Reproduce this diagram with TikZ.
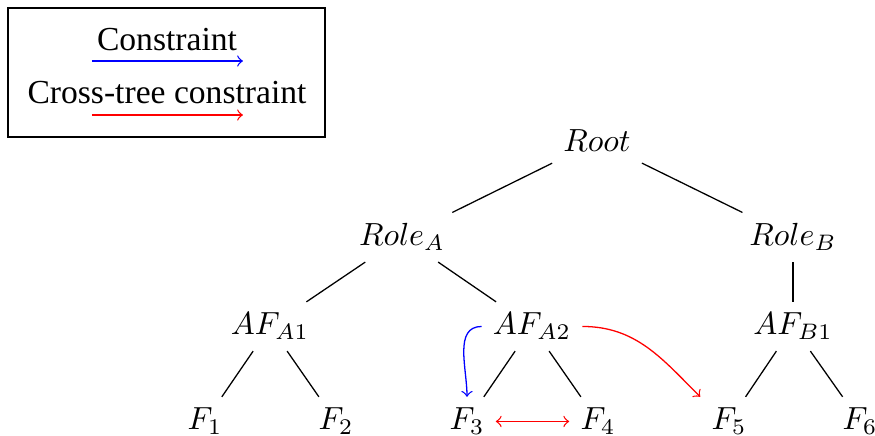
\documentclass[tikz,border=0pt]{standalone}
\usepackage{fontspec}
\newfontfamily\legendfont{Liberation Serif}
\begin{document}
\begin{tikzpicture}[x=0.3125pt, y=-0.3125pt,
    legendtext/.style={anchor=base, font=\legendfont\fontsize{10.5}{12}\selectfont}]
    \useasboundingbox (0,0) rectangle (875,436);

    % Legend
    \draw (8,8) rectangle (325,137);
    \node (constraintlabel) [legendtext] at (167,51) {Constraint};
    \node (crosslabel) [legendtext] at (167,104) {Cross-tree constraint};
    \coordinate (constraintstart) at (92,61);
    \coordinate (constraintend) at (243,61);
    \coordinate (crossstart) at (92,115);
    \coordinate (crossend) at (243,115);
    \draw[->, blue] (constraintstart) -- (constraintend);
    \draw[->, red] (crossstart) -- (crossend);

    % Nodes
    \node (root) [anchor=base] at (597,152) {$Root$};
    \node (roleA) [anchor=base] at (402,246) {$Role_A$};
    \node (roleB) [anchor=base] at (793,246) {$Role_B$};
    \node (afA1) [anchor=base] at (270,335) {$AF_{A1}$};
    \node (afA2) [anchor=base] at (532,335) {$AF_{A2}$};
    \node (afB1) [anchor=base] at (793,335) {$AF_{B1}$};
    \node (f1) [anchor=base] at (205,430) {$F_1$};
    \node (f2) [anchor=base] at (336,430) {$F_2$};
    \node (f3) [anchor=base] at (467,430) {$F_3$};
    \node (f4) [anchor=base] at (598,430) {$F_4$};
    \node (f5) [anchor=base] at (729,430) {$F_5$};
    \node (f6) [anchor=base] at (860,430) {$F_6$};

    % Edges
    \draw (root) -- (roleA);
    \draw (root) -- (roleB);
    \draw (roleA) -- (afA1);
    \draw (roleA) -- (afA2);
    \draw (roleB) -- (afB1);
    \draw (afA1) -- (f1);
    \draw (afA1) -- (f2);
    \draw (afA2) -- (f3);
    \draw (afA2) -- (f4);
    \draw (afB1) -- (f5);
    \draw (afB1) -- (f6);

    % Arrows
    \draw[->, blue] (afA2.west) to[out=180, in=90] (f3.north);
    \draw[->, red] (afA2.east) to[out=0, in=135] (f5.north west);
    \draw[<->, red] (f3) -- (f4);
\end{tikzpicture}
\end{document}
